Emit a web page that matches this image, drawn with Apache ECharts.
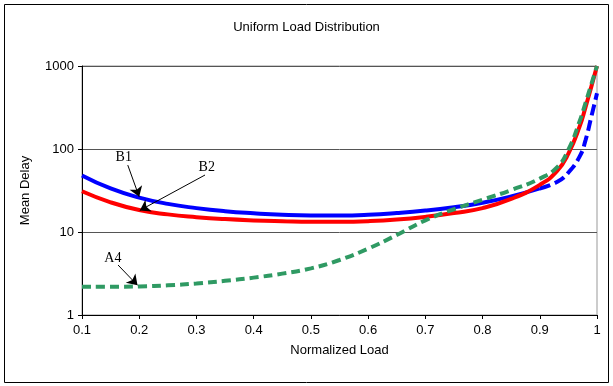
<!DOCTYPE html>
<html><head><meta charset="utf-8">
<script src="https://cdn.jsdelivr.net/npm/echarts@6/dist/echarts.min.js"></script>
<style>html,body{margin:0;padding:0;background:#fff}#c{width:613px;height:386px}</style>
</head><body><div id="c"></div>
<script>
var xTicks = [0.1,0.2,0.3,0.4,0.5,0.6,0.7,0.8,0.9,1.0];
var yTicks = [1,10,100,1000];
var b1SolidX = [0.1,0.15,0.2,0.25,0.3,0.35,0.4,0.45,0.5,0.55,0.6,0.65,0.7,0.75,0.8,0.85,0.9];
var b1SolidY = [48,33.5,26,21.8,19.4,17.8,16.8,16.1,15.8,15.8,16.1,16.9,18.1,19.9,22.5,26.8,33.5];
var b1DashX = [0.9,0.93,0.95,0.97,0.98,0.99,1.0];
var b1DashY = [33.5,40,52,82,128,243,470];
var b2X = [0.1,0.15,0.2,0.25,0.3,0.35,0.4,0.45,0.5,0.55,0.6,0.65,0.7,0.75,0.8,0.85,0.9,0.93,0.95,0.97,0.98,0.99,1.0];
var b2Y = [31,22.8,18.4,16.3,15.1,14.3,13.8,13.5,13.3,13.3,13.5,14.1,15.2,16.9,19.4,25,37,54,88,190,320,560,1000];
var a4X = [0.1,0.15,0.2,0.25,0.3,0.35,0.4,0.45,0.5,0.55,0.6,0.65,0.7,0.75,0.8,0.85,0.9,0.93,0.95,0.97,0.98,0.99,1.0];
var a4Y = [2.19,2.19,2.21,2.28,2.4,2.58,2.82,3.15,3.65,4.6,6.3,9.2,13.8,18.8,24.5,32,44,60,98,220,360,600,1000];
// annotations: [text,labelX,labelY,arrowStartX,arrowStartY,arrowEndX,arrowEndY]
var noteB1 = ['B1',0.173,80,0.18,64,0.2,26.5];
var noteB2 = ['B2',0.318,60,0.315,48.6,0.201,18.2];
var noteA4 = ['A4',0.154,4.86,0.163,4.0,0.197,2.28];

function zip(xs, ys){ return xs.map(function(x,i){return [x, ys[i]];}); }
function note(n){
  return {
    markLine: {silent:true, symbol:['none','arrow'], symbolSize:[10,10], animation:false,
      lineStyle:{color:'#000', width:1, type:'solid'}, itemStyle:{color:'#000'}, label:{show:false},
      emphasis:{disabled:true},
      data:[[{coord:[n[3],n[4]]},{coord:[n[5],n[6]]}]]},
    markPoint: {silent:true, symbol:'circle', symbolSize:0, animation:false,
      label:{show:true, position:'inside', formatter:n[0], color:'#000', fontFamily:'Liberation Serif', fontSize:14},
      data:[{coord:[n[1],n[2]]}]}
  };
}
var chart = echarts.init(document.getElementById('c'));
function mkSeries(name, data, color, dash, n){
  var s = {name:name, type:'line', data:data, showSymbol:false, symbol:'none', smooth:0.5,
    animation:false, lineStyle:{color:color, width:4, type:dash || 'solid'}, z:3};
  if (n){ var o = note(n); s.markLine = o.markLine; s.markPoint = o.markPoint; }
  return s;
}
chart.setOption({
  animation:false,
  title:{text:'Uniform Load Distribution', left:'center', top:16,
    textStyle:{fontFamily:'Liberation Sans', fontSize:13, fontWeight:'normal', color:'#000'}},
  grid:{left:82, right:16, top:66, bottom:71, show:true, borderColor:'#999', borderWidth:1},
  xAxis:{type:'value', min:0.1, max:1, interval:0.1,
    name:'Normalized Load', nameLocation:'middle', nameGap:29,
    nameTextStyle:{fontFamily:'Liberation Sans', fontSize:13, color:'#000'},
    axisLine:{lineStyle:{color:'#000', width:1}},
    axisTick:{show:true, length:4, lineStyle:{color:'#000'}},
    axisLabel:{fontFamily:'Liberation Sans', fontSize:13, color:'#000', margin:9,
      formatter:function(v){ var r=Math.round(v*10)/10; return r===1?'1':r.toFixed(1);} },
    splitLine:{show:false}},
  yAxis:{type:'log', logBase:10, min:1, max:1000,
    name:'Mean Delay', nameLocation:'middle', nameGap:50, nameRotate:90,
    nameTextStyle:{fontFamily:'Liberation Sans', fontSize:13, color:'#000'},
    axisLine:{show:true, lineStyle:{color:'#000', width:1}},
    axisTick:{show:true, length:4, lineStyle:{color:'#000'}},
    axisLabel:{fontFamily:'Liberation Sans', fontSize:13, color:'#000', margin:8,
      formatter:function(v){ return String(Math.round(v)); }},
    splitLine:{show:true, lineStyle:{color:'#555', width:1}},
    minorTick:{show:false}},
  graphic:[{type:'rect', shape:{x:4.5, y:4.5, width:604, height:378}, style:{fill:'none', stroke:'#000', lineWidth:1}, silent:true, z:-1}],
  series:[
    mkSeries('B1', zip(b1SolidX,b1SolidY), '#0000ff', 'solid', noteB1),
    mkSeries('B1 tail', zip(b1DashX,b1DashY), '#0000ff', [11,5], null),
    mkSeries('B2', zip(b2X,b2Y), '#ff0000', 'solid', noteB2),
    mkSeries('A4', zip(a4X,a4Y), '#2f9a63', [9,5], noteA4)
  ]
});
</script></body></html>
